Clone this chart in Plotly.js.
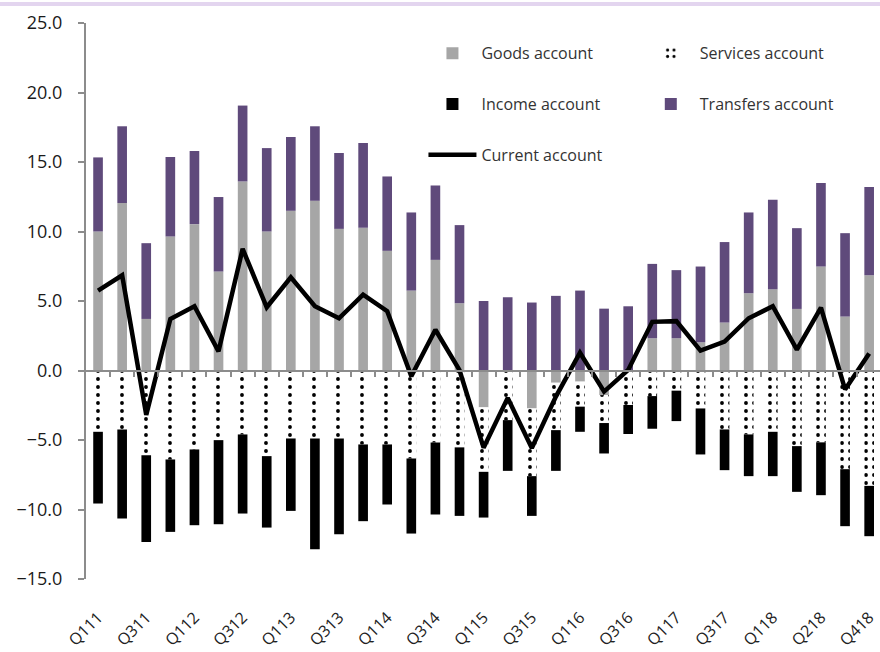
<!DOCTYPE html>
<html>
<head>
<meta charset="utf-8">
<script src="https://cdn.plot.ly/plotly-3.0.1.min.js"></script>
<style>
  html, body { margin: 0; padding: 0; background: #fff; }
  #chart { width: 880px; height: 652px; }
</style>
</head>
<body>
<div id="chart"></div>
<script>
// quarters as labelled in the source (Q118 shows up twice there)
const quarters = [
  "Q111", "Q211", "Q311", "Q411",
  "Q112", "Q212", "Q312", "Q412",
  "Q113", "Q213", "Q313", "Q413",
  "Q114", "Q214", "Q314", "Q414",
  "Q115", "Q215", "Q315", "Q415",
  "Q116", "Q216", "Q316", "Q416",
  "Q117", "Q217", "Q317", "Q417",
  "Q118", "Q118", "Q218", "Q318", "Q418",
];

// % of GDP
const goods = [
  10.0, 12.05, 3.71, 9.64, 10.53, 7.12, 13.6, 10.0,
  11.49, 12.21, 10.19, 10.27, 8.61, 5.75, 7.96, 4.84,
  -2.65, 0.0, -2.73, -0.88, -0.8, -1.77, 0.0, 2.32,
  2.32, 2.03, 3.45, 5.56, 5.85, 4.43, 7.48, 3.88, 6.86,
];
const services = [
  -4.41, -4.24, -6.09, -6.40, -5.68, -5.01, -4.6, -6.16,
  -4.89, -4.89, -4.89, -5.32, -5.32, -6.33, -5.18, -5.53,
  -4.64, -3.57, -4.87, -3.41, -1.8, -2.01, -2.48, -1.84,
  -1.45, -2.73, -4.24, -4.6, -4.41, -5.44, -5.17, -7.1, -8.3,
];
const income = [
  -5.16, -6.41, -6.24, -5.21, -5.45, -6.05, -5.69, -5.14,
  -5.21, -7.97, -6.89, -5.52, -4.32, -5.4, -5.18, -4.93,
  -3.29, -3.65, -2.86, -2.93, -1.81, -2.19, -2.09, -2.35,
  -2.19, -3.31, -2.93, -3.0, -3.19, -3.29, -3.8, -4.1, -3.62,
];
const transfers = [
  5.33, 5.52, 5.45, 5.72, 5.26, 5.36, 5.46, 6.0,
  5.31, 5.36, 5.46, 6.1, 5.35, 5.62, 5.35, 5.62,
  5.0, 5.27, 4.89, 5.37, 5.75, 4.45, 4.62, 5.35,
  4.9, 5.45, 5.79, 5.81, 6.43, 5.81, 6.01, 6.0, 6.34,
];
const current = [
  5.75, 6.85, -3.2, 3.7, 4.62, 1.38, 8.75, 4.55,
  6.71, 4.62, 3.75, 5.45, 4.27, -0.42, 2.93, 0.02,
  -5.55, -1.97, -5.58, -1.88, 1.28, -1.52, 0.04, 3.5,
  3.55, 1.43, 2.08, 3.76, 4.62, 1.5, 4.53, -1.36, 1.22,
];

const xIdx = quarters.map((q, i) => i);
const labelIdx = xIdx.filter(i => i % 2 === 0);
const boundaries = xIdx.map(i => i + 0.5);

const FONT = "Open Sans, Lato, sans-serif";
const AXIS_GREY = "#8c8c8c";

function barTrace(name, y, color, legend, extra) {
  return Object.assign({
    type: "bar",
    name: name,
    x: xIdx,
    y: y,
    legend: legend,
    legendgroup: name,
    marker: { color: color, line: { width: 0 } },
    hoverinfo: "name+y",
  }, extra || {});
}

const data = [
  barTrace("Goods account", goods, "#a6a6a6", "legend"),
  barTrace("Services account", services, "#ffffff", "legend2", {
    marker: {
      color: "#ffffff",
      line: { width: 0 },
      pattern: { shape: ".", fgcolor: "#000000", bgcolor: "#ffffff", size: 8, solidity: 0.18 },
    },
  }),
  barTrace("Income account", income, "#000000", "legend"),
  barTrace("Transfers account", transfers, "#5f4a7b", "legend2"),
  {
    type: "scatter",
    mode: "lines",
    name: "Current account",
    x: xIdx,
    y: current,
    legend: "legend",
    legendgroup: "Current account",
    line: { color: "#000000", width: 4.5 },
  },
  // carries the zero-line axis with the category ticks
  {
    type: "scatter",
    mode: "none",
    x: xIdx,
    y: current,
    xaxis: "x2",
    yaxis: "y",
    showlegend: false,
    hoverinfo: "skip",
  },
];

const xRange = [-0.5, 32.45];

const legendBase = {
  xanchor: "left",
  yanchor: "top",
  y: 0.976,
  orientation: "v",
  traceorder: "grouped",
  tracegroupgap: 27,
  itemwidth: 48,
  bgcolor: "rgba(0,0,0,0)",
  font: { family: FONT, size: 16, color: "#333333" },
};

const layout = {
  width: 880,
  height: 652,
  margin: { l: 86, r: 0, t: 23, b: 73 },
  paper_bgcolor: "#ffffff",
  plot_bgcolor: "#ffffff",
  font: { family: FONT, color: "#222222" },
  barmode: "relative",
  bargap: 0.6,
  showlegend: true,
  legend: Object.assign({ x: 0.425 }, legendBase),
  legend2: Object.assign({ x: 0.7 }, legendBase),
  xaxis: {
    range: xRange,
    tickmode: "array",
    tickvals: labelIdx,
    ticktext: labelIdx.map(i => quarters[i]),
    tickangle: -45,
    ticks: "",
    ticklabelstandoff: 25,
    ticklabeloverflow: "allow",
    showline: false,
    showgrid: false,
    zeroline: false,
    tickfont: { family: FONT, size: 16, color: "#222222" },
  },
  xaxis2: {
    overlaying: "x",
    anchor: "free",
    position: 0.375,
    range: xRange,
    tickmode: "array",
    tickvals: boundaries,
    showticklabels: false,
    ticks: "outside",
    ticklen: 5,
    tickwidth: 1.5,
    tickcolor: AXIS_GREY,
    showline: true,
    linecolor: AXIS_GREY,
    linewidth: 2,
    showgrid: false,
    zeroline: false,
  },
  yaxis: {
    range: [-15, 25],
    tickmode: "linear",
    tick0: 0,
    dtick: 5,
    tickformat: ".1f",
    ticks: "outside",
    ticklen: 6,
    tickwidth: 1.5,
    tickcolor: AXIS_GREY,
    showline: true,
    linecolor: AXIS_GREY,
    linewidth: 2,
    showgrid: false,
    zeroline: false,
    ticklabelstandoff: 12,
    tickfont: { family: FONT, size: 18, color: "#1a1a1a" },
  },
  shapes: [
    {
      type: "line",
      xref: "paper",
      yref: "paper",
      x0: -0.11,
      x1: 1,
      y0: 1.034,
      y1: 1.034,
      line: { color: "#e3d5ef", width: 4 },
    },
  ],
};

const config = {
  displayModeBar: false,
};

Plotly.newPlot("chart", data, layout, config);
</script>
</body>
</html>
